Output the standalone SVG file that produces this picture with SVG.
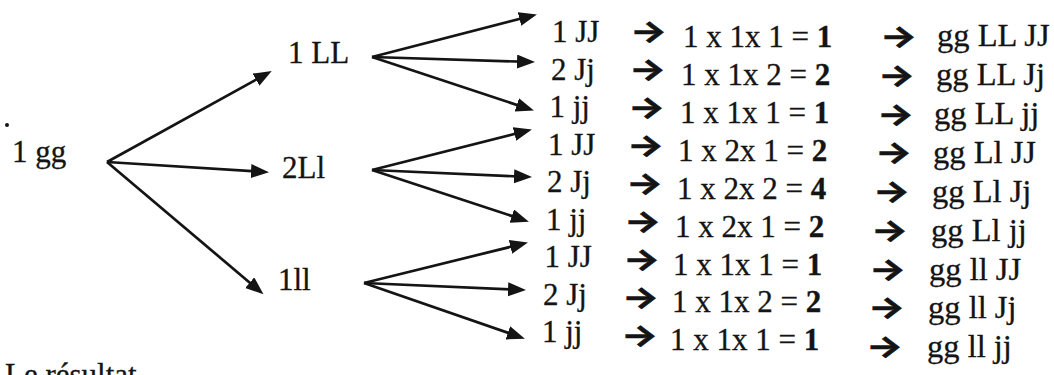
<svg xmlns="http://www.w3.org/2000/svg" width="1054" height="375" viewBox="0 0 1054 375">
  <style>
    text { font-family: "Liberation Serif", "Times New Roman", serif; font-size: 31px; fill: #141414; stroke: #141414; stroke-width: 0.3; }
    .arr { font-family: Inter, "DejaVu Sans", sans-serif; font-size: 30px; font-weight: bold; stroke-width: 0.7; }
    .g { font-size: 32.5px; }
    .b { font-weight: bold; }
    .c { stroke: #141414; stroke-width: 2.7; fill: none; marker-end: url(#head); }
  </style>
  <defs>
    <marker id="head" markerUnits="userSpaceOnUse" markerWidth="19" markerHeight="15" refX="12" refY="7" orient="auto">
      <path d="M0,0 L18,7 L0,14 z" fill="#141414"/>
    </marker>
  </defs>
  <rect width="1054" height="375" fill="#ffffff"/>

  <g id="connectors">
    <line class="c" x1="107" y1="162" x2="266.5" y2="73.9"/>
    <line class="c" x1="107" y1="162" x2="263" y2="171.8"/>
    <line class="c" x1="107" y1="162" x2="258.9" y2="290.4"/>
    <line class="c" x1="372" y1="57" x2="531.1" y2="16"/>
    <line class="c" x1="372" y1="57" x2="529" y2="61.9"/>
    <line class="c" x1="372" y1="57" x2="528.2" y2="108.7"/>
    <line class="c" x1="372" y1="170" x2="526.1" y2="131"/>
    <line class="c" x1="372" y1="170" x2="526" y2="176.8"/>
    <line class="c" x1="372" y1="170" x2="523.2" y2="219.8"/>
    <line class="c" x1="364" y1="283" x2="522.1" y2="244"/>
    <line class="c" x1="364" y1="283" x2="520" y2="289.8"/>
    <line class="c" x1="364" y1="283" x2="519.2" y2="336.7"/>
  </g>

  <g id="n-gg">
    <circle cx="7" cy="125" r="2" fill="#141414"/>
    <text x="12" y="162">1 gg</text>
  </g>
  <g id="n-LL"><text x="288" y="63">1 LL</text></g>
  <g id="n-Ll"><text x="282" y="178">2Ll</text></g>
  <g id="n-ll"><text x="278" y="290">1ll</text></g>

  <g id="row1">
    <text x="552" y="42">1 JJ</text>
    <text class="arr" transform="translate(630,42) scale(1.3,1)">→</text>
    <text x="683" y="47">1 x 1x 1 = <tspan class="b">1</tspan></text>
    <text class="arr" transform="translate(880,47) scale(1.3,1)">→</text>
    <text class="g" x="937" y="46">gg LL JJ</text>
  </g>
  <g id="row2">
    <text x="551" y="79.5">2 Jj</text>
    <text class="arr" transform="translate(629,80) scale(1.3,1)">→</text>
    <text x="681" y="85">1 x 1x 2 = <tspan class="b">2</tspan></text>
    <text class="arr" transform="translate(878,85.8) scale(1.3,1)">→</text>
    <text class="g" x="936" y="85">gg LL Jj</text>
  </g>
  <g id="row3">
    <text x="549.5" y="117">1 jj</text>
    <text class="arr" transform="translate(628,118) scale(1.3,1)">→</text>
    <text x="680" y="123">1 x 1x 1 = <tspan class="b">1</tspan></text>
    <text class="arr" transform="translate(877,124.5) scale(1.3,1)">→</text>
    <text class="g" x="934" y="124">gg LL jj</text>
  </g>
  <g id="row4">
    <text x="548" y="154.5">1 JJ</text>
    <text class="arr" transform="translate(627,156) scale(1.3,1)">→</text>
    <text x="678" y="161">1 x 2x 1 = <tspan class="b">2</tspan></text>
    <text class="arr" transform="translate(875,163.3) scale(1.3,1)">→</text>
    <text class="g" x="933" y="163">gg Ll JJ</text>
  </g>
  <g id="row5">
    <text x="547" y="192">2 Jj</text>
    <text class="arr" transform="translate(626,194) scale(1.3,1)">→</text>
    <text x="677" y="199">1 x 2x 2 = <tspan class="b">4</tspan></text>
    <text class="arr" transform="translate(873,202) scale(1.3,1)">→</text>
    <text class="g" x="932" y="202">gg Ll Jj</text>
  </g>
  <g id="row6">
    <text x="546" y="229.5">1 jj</text>
    <text class="arr" transform="translate(624,232) scale(1.3,1)">→</text>
    <text x="675" y="236.5">1 x 2x 1 = <tspan class="b">2</tspan></text>
    <text class="arr" transform="translate(871,240.8) scale(1.3,1)">→</text>
    <text class="g" x="931" y="240.5">gg Ll jj</text>
  </g>
  <g id="row7">
    <text x="544.5" y="267">1 JJ</text>
    <text class="arr" transform="translate(623,270) scale(1.3,1)">→</text>
    <text x="673" y="274.5">1 x 1x 1 = <tspan class="b">1</tspan></text>
    <text class="arr" transform="translate(869,279.5) scale(1.3,1)">→</text>
    <text class="g" x="929" y="279.5">gg ll JJ</text>
  </g>
  <g id="row8">
    <text x="543" y="304.5">2 Jj</text>
    <text class="arr" transform="translate(622,308) scale(1.3,1)">→</text>
    <text x="672" y="312">1 x 1x 2 = <tspan class="b">2</tspan></text>
    <text class="arr" transform="translate(868,318.3) scale(1.3,1)">→</text>
    <text class="g" x="928" y="318">gg ll Jj</text>
  </g>
  <g id="row9">
    <text x="542" y="342">1 jj</text>
    <text class="arr" transform="translate(621,346) scale(1.3,1)">→</text>
    <text x="670" y="350">1 x 1x 1 = <tspan class="b">1</tspan></text>
    <text class="arr" transform="translate(866,357) scale(1.3,1)">→</text>
    <text class="g" x="927" y="357">gg ll jj</text>
  </g>

  <g id="caption">
    <text x="5" y="385">Le résultat</text>
  </g>
</svg>
